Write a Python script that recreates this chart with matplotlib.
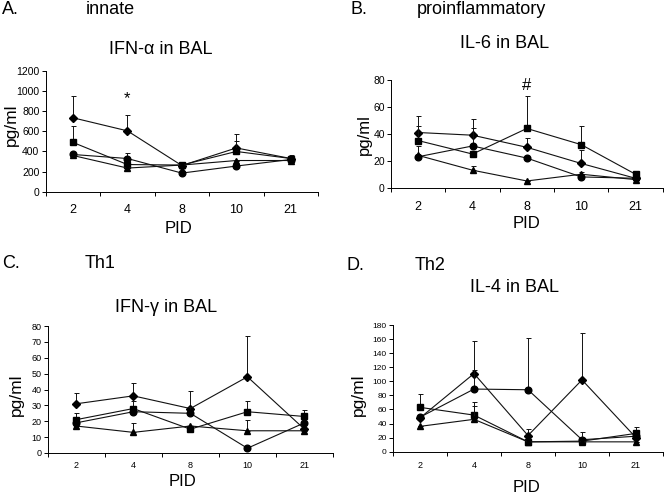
import numpy as np
import matplotlib
matplotlib.use("Agg")
import matplotlib.pyplot as plt
from matplotlib.ticker import FixedLocator, NullFormatter

plt.rcParams['font.family'] = ['Liberation Sans', 'DejaVu Sans']

pid = ["2", "4", "8", "10", "21"]

# panel A: IFN-alpha (means, then tops of the upward error bars; nan = no bar visible)
ifna_diamond = [735, 605, 260, 435, 330]
ifna_diamond_top = [950, 760, np.nan, 570, np.nan]
ifna_square = [490, 270, 265, 400, 330]
ifna_square_top = [650, np.nan, 300, 500, 360]
ifna_triangle = [360, 235, 265, 310, 310]
ifna_triangle_top = [np.nan, np.nan, np.nan, np.nan, np.nan]
ifna_circle = [370, 330, 185, 255, 320]
ifna_circle_top = [np.nan, 380, np.nan, np.nan, np.nan]

# panel B: IL-6
il6_diamond = [41, 39, 30, 18, 7]
il6_diamond_top = [53, 51, 37, 28, np.nan]
il6_square = [35, 25, 44, 32, 10]
il6_square_top = [46, np.nan, 68, 46, np.nan]
il6_triangle = [24, 13, 5, 10, 6]
il6_triangle_top = [31, 16, np.nan, 12, np.nan]
il6_circle = [23, 31, 22, 8, 7]
il6_circle_top = [np.nan, 44, np.nan, np.nan, np.nan]

# panel C: IFN-gamma
ifng_diamond = [31, 36, 28, 48, 15]
ifng_diamond_top = [38, 44, 39, 74, np.nan]
ifng_square = [21, 28, 15, 26, 23]
ifng_square_top = [25, 33, np.nan, 33, 27]
ifng_triangle = [17, 13, 17, 14, 14]
ifng_triangle_top = [np.nan, 19, np.nan, 21, np.nan]
ifng_circle = [19, 26, 25, 3, 19]
ifng_circle_top = [np.nan, np.nan, 29, np.nan, np.nan]

# panel D: IL-4
il4_diamond = [48, 111, 23, 102, 20]
il4_diamond_top = [np.nan, 157, 32, 169, np.nan]
il4_circle = [49, 89, 88, 17, 22]
il4_circle_top = [np.nan, 116, 162, np.nan, np.nan]
il4_square = [63, 52, 14, 15, 26]
il4_square_top = [82, 70, np.nan, 28, 35]
il4_triangle = [36, 46, 14, 14, 14]
il4_triangle_top = [np.nan, 65, np.nan, np.nan, np.nan]

W, H = 664, 495
fig = plt.figure(figsize=(W / 100, H / 100), dpi=100)


def px_axes(x0, x1, y_top, y_bot):
    return fig.add_axes([x0 / W, 1 - y_bot / H, (x1 - x0) / W, (y_bot - y_top) / H])


def ftext(x, y, s, size=13, ha="center", **kw):
    fig.text(x / W, 1 - y / H, s, fontsize=size, ha=ha, va="center", **kw)


def draw(ax, series, ymax, ystep, ysize, xsize, xpad):
    x = np.arange(len(pid))
    for (vals, tops, mk, ms) in series:
        vals = np.array(vals, float)
        up = np.nan_to_num(np.array(tops, float) - vals, nan=0.0)
        up = np.clip(up, 0, None)
        ax.errorbar(x, vals, yerr=[np.zeros_like(up), up], fmt="none", ecolor="#111111",
                    elinewidth=0.7, capsize=1.8, capthick=0.7)
        ax.plot(x, vals, color="#111111", lw=0.8, marker=mk, ms=ms, mfc="black", mec="black")
    ax.set_xlim(-0.5, len(pid) - 0.5)
    ax.set_ylim(0, ymax)
    ax.set_yticks(np.arange(0, ymax + 1, ystep))
    ax.set_xticks(x)
    ax.set_xticklabels(pid)
    ax.xaxis.set_minor_locator(FixedLocator(np.arange(-0.5, len(pid), 1.0)))
    ax.xaxis.set_minor_formatter(NullFormatter())
    ax.tick_params(axis="x", which="major", length=0, labelsize=xsize, pad=xpad)
    ax.tick_params(axis="x", which="minor", length=3, width=0.7, direction="out")
    ax.tick_params(axis="y", length=3, width=0.7, direction="out", labelsize=ysize, pad=1.5)
    for s in ("top", "right"):
        ax.spines[s].set_visible(False)
    for s in ("left", "bottom"):
        ax.spines[s].set_linewidth(0.7)
    ax.patch.set_alpha(0)


# A
axA = px_axes(45.7, 318, 71, 191.7)
draw(axA, [(ifna_diamond, ifna_diamond_top, "D", 4.5),
           (ifna_square, ifna_square_top, "s", 4.8),
           (ifna_triangle, ifna_triangle_top, "^", 4.8),
           (ifna_circle, ifna_circle_top, "o", 4.8)], 1200, 200, 7.5, 9, 9)
axA.text(1, 930, "*", ha="center", va="center", fontsize=12)
ftext(2, 10, "A.", ha="left")
ftext(86, 10, "innate", ha="left")
ftext(161, 50, "IFN-α in BAL")
ftext(178, 228, "PID", size=12)
ftext(11, 125, "pg/ml", size=12.5, rotation=90)

# B
axB = px_axes(391, 662.7, 80, 187.7)
draw(axB, [(il6_diamond, il6_diamond_top, "D", 4.5),
           (il6_square, il6_square_top, "s", 4.8),
           (il6_triangle, il6_triangle_top, "^", 4.8),
           (il6_circle, il6_circle_top, "o", 4.8)], 80, 20, 7.5, 9, 9.5)
axB.text(2, 76, "#", ha="center", va="center", fontsize=12)
ftext(350, 9, "B.", ha="left")
ftext(417, 10, "proinflammatory", ha="left")
ftext(505, 43, "IL-6 in BAL")
ftext(527, 223, "PID", size=12)
ftext(364, 135, "pg/ml", size=12, rotation=90)

# C
axC = px_axes(47.7, 333, 326, 453)
draw(axC, [(ifng_diamond, ifng_diamond_top, "D", 4.5),
           (ifng_square, ifng_square_top, "s", 4.8),
           (ifng_triangle, ifng_triangle_top, "^", 4.8),
           (ifng_circle, ifng_circle_top, "o", 4.8)], 80, 10, 6.5, 6.5, 6)
ftext(2, 263, "C.", ha="left")
ftext(85, 263, "Th1", ha="left")
ftext(166, 307, "IFN-γ in BAL")
ftext(183, 481, "PID", size=12)
ftext(16, 395, "pg/ml", size=12.5, rotation=90)

# D
axD = px_axes(393, 663, 325, 451.7)
draw(axD, [(il4_diamond, il4_diamond_top, "D", 4.5),
           (il4_circle, il4_circle_top, "o", 4.8),
           (il4_square, il4_square_top, "s", 4.8),
           (il4_triangle, il4_triangle_top, "^", 4.8)], 180, 20, 6, 6.5, 7)
ftext(347, 265, "D.", ha="left")
ftext(415, 265, "Th2", ha="left")
ftext(515, 287, "IL-4 in BAL")
ftext(527, 488, "PID", size=12)
ftext(358, 395, "pg/ml", size=12.5, rotation=90)

fig.savefig("out.png", dpi=100)
